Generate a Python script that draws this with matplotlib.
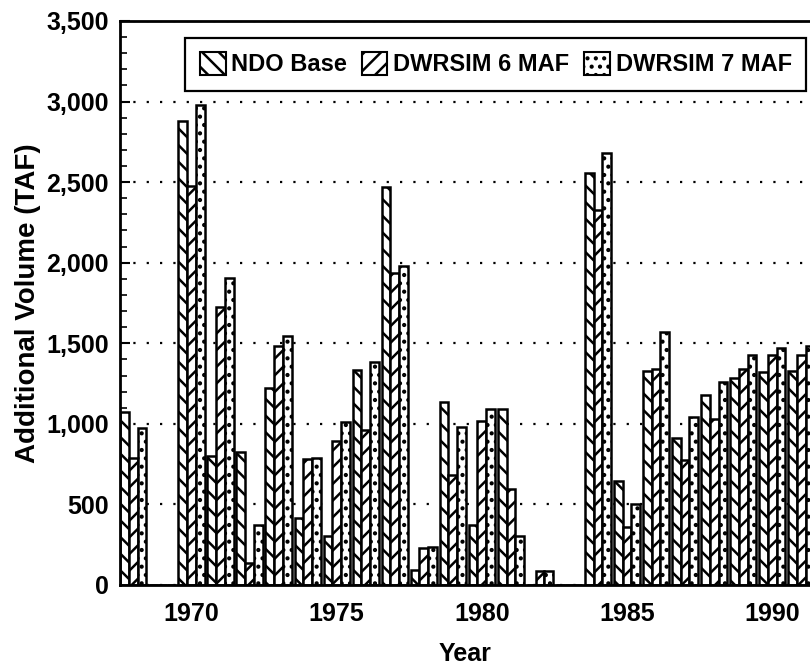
import matplotlib
matplotlib.use('Agg')
import matplotlib.pyplot as plt
from matplotlib.patches import Patch
from matplotlib.ticker import MultipleLocator, FuncFormatter
import numpy as np

# Данные
years = list(range(1968, 1992))
ndo_base = [1075, 0, 2878, 801, 823, 1225, 417, 303, 1336, 2468, 96, 1133,
            374, 1090, 0, 0, 2554, 647, 1325, 915, 1182, 1282, 1319, 1329]
dwrsim_6 = [790, 0, 2479, 1727, 135, 1485, 780, 891, 962, 1934, 229, 684,
            1015, 598, 85, 0, 2325, 363, 1342, 776, 1032, 1340, 1428, 1428]
dwrsim_7 = [972, 0, 2981, 1908, 374, 1545, 786, 1009, 1383, 1977, 235, 983,
            1094, 303, 85, 0, 2682, 502, 1571, 1043, 1261, 1428, 1468, 1485]
series_names = ['NDO Base', 'DWRSIM 6 MAF', 'DWRSIM 7 MAF']
year_ticks = [1970, 1975, 1980, 1985, 1990]

plt.rcParams['font.family'] = ['Liberation Sans', 'DejaVu Sans']
plt.rcParams['font.weight'] = 'bold'
plt.rcParams['hatch.linewidth'] = 1.8

fig = plt.figure(figsize=(8.1, 6.69), dpi=100)
ax = fig.add_axes([120 / 810, 84 / 669, 1 - 120 / 810, 564 / 669])

x = np.array(years)
w = 0.3
hatches = ['\\\\', '//', '..']
for i, (vals, h) in enumerate(zip([ndo_base, dwrsim_6, dwrsim_7], hatches)):
    ax.bar(x + (i - 1) * w, vals, width=w, facecolor='white', edgecolor='black',
           linewidth=1.8, hatch=h, zorder=2)

ax.set_xlim(1967.54, 1991.3)
ax.set_ylim(0, 3500)
ax.set_axisbelow(True)

ax.yaxis.set_major_locator(MultipleLocator(500))
ax.yaxis.set_minor_locator(MultipleLocator(100))
ax.yaxis.set_major_formatter(FuncFormatter(lambda v, p: f'{int(v):,}'))
ax.tick_params(axis='y', which='major', direction='in', length=7, width=1.5,
               labelsize=18, pad=8)
ax.tick_params(axis='y', which='minor', direction='in', length=5, width=1.2)
ax.set_xticks(year_ticks)
ax.tick_params(axis='x', length=0, labelsize=18, pad=12)
for lab in ax.get_xticklabels() + ax.get_yticklabels():
    lab.set_fontweight('bold')

ax.yaxis.grid(True, which='major', linestyle=(0, (1, 5)), color='black', linewidth=1.6)

for s in ['left', 'bottom', 'top']:
    ax.spines[s].set_linewidth(2)
ax.spines['right'].set_visible(False)

ax.set_xlabel('Year', fontsize=18, fontweight='bold', labelpad=12)
ax.set_ylabel('Additional Volume (TAF)', fontsize=20, fontweight='bold', labelpad=4)

handles = [Patch(facecolor='white', edgecolor='black', hatch=h, linewidth=1.5)
           for h in hatches]
leg = ax.legend(handles, series_names, ncol=3, loc='upper right',
                bbox_to_anchor=(0.994, 0.970), borderaxespad=0,
                prop={'size': 17, 'weight': 'bold'}, fancybox=False,
                framealpha=1, edgecolor='black', handlelength=1.1,
                handleheight=1.1, handletextpad=0.25, columnspacing=0.6,
                borderpad=0.6)
leg.get_frame().set_linewidth(1.6)

fig.savefig('out.png', dpi=100)
